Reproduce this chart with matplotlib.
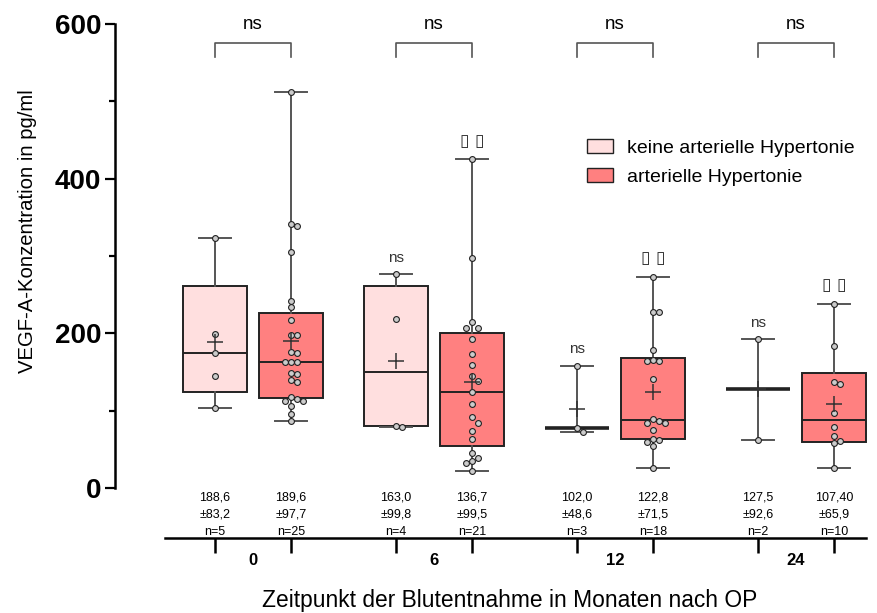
import numpy as np
import matplotlib.pyplot as plt
from matplotlib.patches import Patch

plt.rcParams['font.family'] = ['Liberation Sans', 'DejaVu Sans']

# Werte (pg/ml)
zeitpunkte = ['0', '6', '12', '24']
keine_ht = [
    [322.8, 199.4, 174.0, 144.6, 103.6],
    [276.2, 218.4, 80.3, 79.0],
    [158.0, 77.7, 71.7],
    [192.9, 62.2],
]
art_ht = [
    [512.6, 341.0, 339.2, 304.7, 241.7, 234.3, 217.5, 198.1, 198.1, 176.1, 174.0,
     162.3, 162.3, 162.3, 148.9, 146.8, 139.0, 137.2, 117.4, 115.2, 112.2, 112.2,
     106.1, 95.8, 86.7],
    [425.1, 297.0, 214.1, 207.1, 207.1, 192.9, 173.5, 158.4, 144.2, 138.1, 123.9,
     108.7, 91.5, 84.2, 73.8, 63.5, 44.5, 38.4, 34.1, 32.0, 22.0],
    [273.2, 227.8, 227.8, 178.3, 165.3, 163.6, 163.6, 141.1, 88.9, 86.3, 83.3,
     83.3, 74.3, 63.4, 62.1, 59.5, 54.0, 25.1],
    [237.8, 183.8, 137.2, 134.2, 97.1, 78.6, 66.5, 60.0, 57.5, 25.1],
]
mw_keine = ['188,6', '163,0', '102,0', '127,5']
sd_keine = ['±83,2', '±99,8', '±48,6', '±92,6']
mw_art = ['189,6', '136,7', '122,8', '107,40']
sd_art = ['±97,7', '±99,5', '±71,5', '±65,9']
sig_vergleich = ['ns', 'ns', 'ns', 'ns']
sig_keine = ['', 'ns', 'ns', 'ns']
sig_art = ['', '▯ ▯', '▯ ▯', '▯ ▯']

hell = '#FFDFDF'
dunkel = '#FF8080'

fig = plt.figure(figsize=(8.77, 6.13), dpi=100)
ax = fig.add_axes([115 / 877, 75 / 613, 757 / 877, 537 / 613])
ax.set_xlim(-0.762, 3.42)
ax.set_ylim(-65, 630)

off = 0.21
breite = 0.357
px_x = 181.0   # Pixel pro x-Einheit
px_y = 0.7725  # Pixel pro pg/ml
d = 6.0        # Punktabstand in Pixeln


def stats(werte):
    w = np.array(werte)
    med = np.median(w)
    if len(w) <= 3:
        q1 = q3 = med
    else:
        q1, q3 = np.percentile(w, [25, 75], method='weibull')
    return dict(med=med, q1=q1, q3=q3, whislo=w.min(), whishi=w.max(),
                mean=w.mean(), fliers=[])


def swarm(werte, pos):
    # einfache Bienenschwarm-Anordnung
    platz = []
    xs = []
    for v in werte:
        for k in [0, 1, -1, 2, -2, 3, -3]:
            x = pos + k * d / px_x
            ok = all(((x - px) * px_x) ** 2 + ((v - pv) * px_y) ** 2 >= (d * 0.95) ** 2
                     for px, pv in platz)
            if ok:
                break
        platz.append((x, v))
        xs.append(x)
    return xs


for i in range(len(zeitpunkte)):
    for werte, pos, farbe in [(keine_ht[i], i - off, hell), (art_ht[i], i + off, dunkel)]:
        st = stats(werte)
        ax.bxp([st], positions=[pos], widths=breite, patch_artist=True,
               showmeans=False, showfliers=False,
               boxprops=dict(facecolor=farbe, edgecolor='#222222', linewidth=1.4),
               medianprops=dict(color='#222222', linewidth=1.4 if len(werte) > 3 else 2.6),
               whiskerprops=dict(color='#555555', linewidth=1.4),
               capprops=dict(color='#555555', linewidth=1.4), capwidths=breite / 2)
        ax.plot(swarm(werte, pos), werte, 'o', ms=4.2, mfc='#CCCCCC', mec='#222222',
                mew=0.8, zorder=4)
        ax.plot(pos, np.mean(werte), marker='+', ms=11, mew=1.1, color='#333333', zorder=5)

    # Statistik-Text unter den Boxen
    for pos, mw, sd, n in [(i - off, mw_keine[i], sd_keine[i], len(keine_ht[i])),
                           (i + off, mw_art[i], sd_art[i], len(art_ht[i]))]:
        ax.text(pos, -12, mw, ha='center', va='center', fontsize=9)
        ax.text(pos, -35, sd, ha='center', va='center', fontsize=9)
        ax.text(pos, -57.5, f'n={n}', ha='center', va='center', fontsize=9)

    # Klammern oben
    ax.plot([i - off, i - off, i + off, i + off], [558, 575, 575, 558], color='#555555',
            lw=1.2, clip_on=False)
    ax.text(i, 600, sig_vergleich[i], ha='center', va='center', fontsize=13.5)

    if sig_keine[i]:
        ax.text(i - off, max(keine_ht[i]) + 21, sig_keine[i], ha='center', va='center',
                fontsize=11, color='#333333')
    if sig_art[i]:
        ax.text(i + off, max(art_ht[i]) + 24, sig_art[i], ha='center', va='center',
                fontsize=12.5, color='#333333', family=['DejaVu Sans'])

    ax.text(i, -94, zeitpunkte[i], ha='center', va='center', fontsize=12,
            fontweight='bold', clip_on=False)

# Achsen
for s in ['top', 'right']:
    ax.spines[s].set_visible(False)
ax.spines['left'].set_bounds(0, 600)
ax.spines['left'].set_linewidth(1.8)
ax.spines['bottom'].set_bounds(-0.486, 3.387)
ax.spines['bottom'].set_linewidth(1.8)

ax.set_yticks([0, 200, 400, 600])
ax.set_yticks([100, 300, 500], minor=True)
ax.tick_params(axis='y', which='major', length=7, width=1.6, pad=3, labelsize=20)
ax.tick_params(axis='y', which='minor', length=4, width=1.6)
for lab in ax.get_yticklabels():
    lab.set_fontweight('bold')

xpos = [i + s for i in range(len(zeitpunkte)) for s in (-off, off)]
ax.set_xticks(xpos)
ax.set_xticklabels([])
ax.tick_params(axis='x', which='major', direction='out', length=11, width=1.8)

fig.text(28 / 877, 1 - 231 / 613, 'VEGF-A-Konzentration in pg/ml', rotation=90,
         ha='center', va='center', fontsize=14.6)
fig.text(510 / 877, 1 - 600 / 613, 'Zeitpunkt der Blutentnahme in Monaten nach OP',
         ha='center', va='center', fontsize=16.4)

handles = [Patch(facecolor=hell, edgecolor='#222222', label='keine arterielle Hypertonie'),
           Patch(facecolor=dunkel, edgecolor='#222222', label='arterielle Hypertonie')]
fig.legend(handles=handles, loc='upper left', bbox_to_anchor=(587 / 877, 1 - 139 / 613),
           frameon=False, fontsize=14, handlelength=1.35, handleheight=0.7,
           handletextpad=0.72, labelspacing=0.6, borderpad=0, borderaxespad=0)

plt.savefig('out.png', dpi=100)
